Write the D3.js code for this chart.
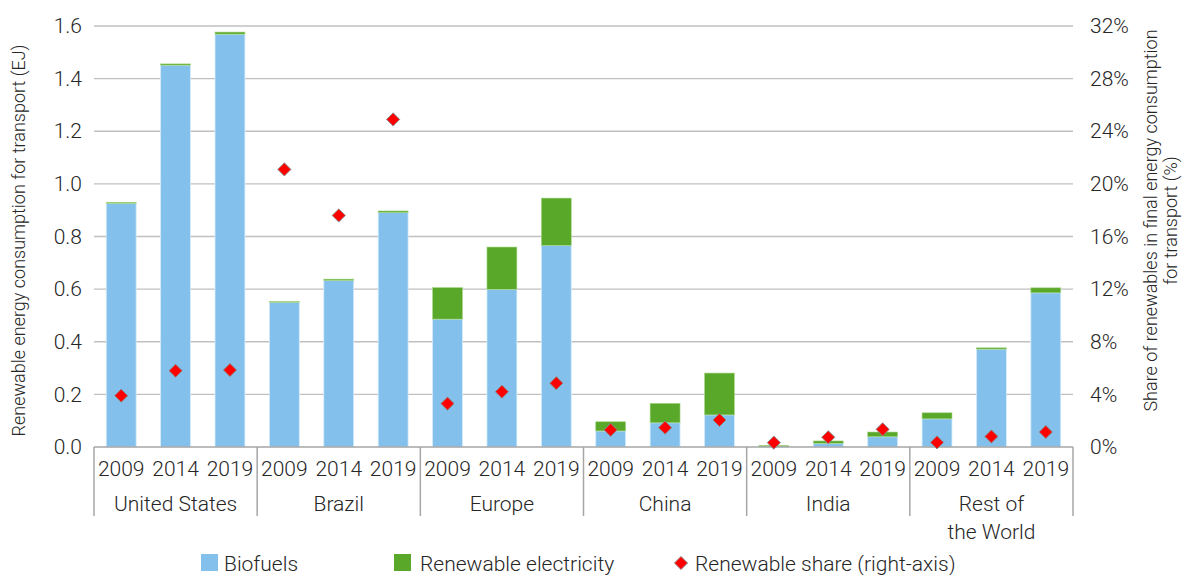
<!DOCTYPE html>
<html>
<head>
<meta charset="utf-8">
<script src="https://cdn.jsdelivr.net/npm/d3@7"></script>
<style>
  body { margin: 0; background: #fff; }
  svg { font-family: Roboto, "Noto Sans", sans-serif; font-weight: 300; }
  text { fill: #262626; }
</style>
</head>
<body>
<svg id="chart" width="1184" height="575"></svg>
<script>
// data
const regions = ["United States", "Brazil", "Europe", "China", "India", "Rest of the World"]
const regionLines = [["United States"], ["Brazil"], ["Europe"], ["China"], ["India"], ["Rest of", "the World"]]
const years = ["2009", "2014", "2019"]
const biofuels = [0.926, 1.451, 1.569, 0.550, 0.633, 0.891, 0.486, 0.599, 0.766, 0.061, 0.092, 0.122, 0.001, 0.014, 0.039, 0.107, 0.372, 0.586]
const electricity = [0.004, 0.005, 0.008, 0.003, 0.005, 0.006, 0.120, 0.161, 0.180, 0.035, 0.074, 0.159, 0.005, 0.009, 0.018, 0.023, 0.005, 0.019]
const share = [3.9, 5.8, 5.85, 21.1, 17.6, 24.9, 3.3, 4.2, 4.85, 1.3, 1.47, 2.05, 0.33, 0.74, 1.34, 0.35, 0.8, 1.14]
const leftTicks = [0, 0.2, 0.4, 0.6, 0.8, 1.0, 1.2, 1.4, 1.6]
const rightTicks = [0, 4, 8, 12, 16, 20, 24, 28, 32]

const colors = { bio: "#83c1ec", elec: "#5aa829", share: "#ff0000", grid: "#c0c0c0", axis: "#a6a6a6" }

const rows = []
regions.forEach((r, i) => {
  years.forEach((y, j) => {
    const k = i * 3 + j
    rows.push({ key: r + "|" + y, region: r, year: y, bio: biofuels[k], elec: electricity[k], share: share[k] })
  })
})

const svg = d3.select("#chart")
const plotLeft = 94, plotRight = 1073, plotTop = 26, plotBottom = 447

const x = d3.scaleBand().domain(rows.map(d => d.key)).range([plotLeft, plotRight]).paddingInner(0.45).paddingOuter(0.225)
const y = d3.scaleLinear().domain([0, 1.6]).range([plotBottom, plotTop])
const y2 = d3.scaleLinear().domain([0, 32]).range([plotBottom, plotTop])

// gridlines
svg.append("g")
  .selectAll("line")
  .data(leftTicks.slice(1))
  .join("line")
  .attr("x1", plotLeft).attr("x2", plotRight)
  .attr("y1", d => y(d)).attr("y2", d => y(d))
  .attr("stroke", colors.grid).attr("stroke-width", 1.3)

// left axis
const yAxis = svg.append("g")
  .attr("transform", `translate(${plotLeft},0)`)
  .call(d3.axisLeft(y).tickValues(leftTicks).tickFormat(d3.format(".1f")).tickSize(0).tickPadding(12))
yAxis.select(".domain").remove()
yAxis.selectAll("text").style("font-size", "21px").style("font-family", "Roboto").attr("fill", "#262626")

// right axis
const y2Axis = svg.append("g")
  .attr("transform", `translate(${plotRight},0)`)
  .call(d3.axisRight(y2).tickValues(rightTicks).tickFormat(d => d + "%").tickSize(0).tickPadding(17))
y2Axis.select(".domain").remove()
y2Axis.selectAll("text").style("font-size", "21px").style("font-family", "Roboto").attr("fill", "#262626")

// stacked bars
const bars = svg.append("g")
bars.selectAll("rect.bio")
  .data(rows)
  .join("rect")
  .attr("class", "bio")
  .attr("x", d => x(d.key))
  .attr("width", x.bandwidth())
  .attr("y", d => y(d.bio))
  .attr("height", d => y(0) - y(d.bio))
  .attr("fill", colors.bio)
  .attr("stroke", "#d6ecfa").attr("stroke-width", 0.8)

bars.selectAll("rect.elec")
  .data(rows)
  .join("rect")
  .attr("class", "elec")
  .attr("x", d => x(d.key))
  .attr("width", x.bandwidth())
  .attr("y", d => y(d.bio + d.elec))
  .attr("height", d => y(d.bio) - y(d.bio + d.elec))
  .attr("fill", colors.elec)
  .attr("stroke", "#a8d88a").attr("stroke-width", 0.6)

// baseline + category dividers
svg.append("line")
  .attr("x1", plotLeft).attr("x2", plotRight)
  .attr("y1", plotBottom).attr("y2", plotBottom)
  .attr("stroke", colors.axis).attr("stroke-width", 1.5)

const groupEdges = regions.map(r => x(r + "|2009") - x.step() * x.paddingOuter())
groupEdges.push(plotRight)
svg.append("g")
  .selectAll("line")
  .data(groupEdges)
  .join("line")
  .attr("x1", d => d).attr("x2", d => d)
  .attr("y1", plotBottom).attr("y2", 516)
  .attr("stroke", colors.axis).attr("stroke-width", 1.5)

// year labels
svg.append("g")
  .selectAll("text")
  .data(rows)
  .join("text")
  .attr("x", d => x(d.key) + x.bandwidth() / 2)
  .attr("y", 476)
  .attr("text-anchor", "middle")
  .style("font-size", "21px")
  .text(d => d.year)

// region labels
const regionG = svg.append("g")
regionLines.forEach((lines, i) => {
  const cx = (groupEdges[i] + groupEdges[i + 1]) / 2
  lines.forEach((t, j) => {
    regionG.append("text")
      .attr("x", cx)
      .attr("y", 511 + j * 28)
      .attr("text-anchor", "middle")
      .style("font-size", "21px")
      .text(t)
  })
})

// share diamonds
const diamond = d3.symbol().type(d3.symbolDiamond2).size(110)
svg.append("g")
  .selectAll("path")
  .data(rows)
  .join("path")
  .attr("d", diamond)
  .attr("transform", d => `translate(${x(d.key) + x.bandwidth() / 2},${y2(d.share)})`)
  .attr("fill", colors.share)
  .attr("stroke", "#8c8c8c").attr("stroke-width", 1)

// axis titles
svg.append("text")
  .attr("transform", `translate(25,${(plotTop + plotBottom) / 2 + 4}) rotate(-90)`)
  .attr("text-anchor", "middle")
  .style("font-size", "18px")
  .text("Renewable energy consumption for transport (EJ)")

const rt = svg.append("text")
  .attr("transform", `translate(1157,${(plotTop + plotBottom) / 2 - 16}) rotate(-90)`)
  .attr("text-anchor", "middle")
  .style("font-size", "18px")
rt.append("tspan").attr("x", 0).attr("dy", 0).text("Share of renewables in final energy consumption")
rt.append("tspan").attr("x", 0).attr("dy", 20).text("for transport (%)")

// legend
const legend = svg.append("g").attr("transform", "translate(0,563)")
legend.append("rect").attr("x", 201).attr("y", -9).attr("width", 17).attr("height", 17).attr("fill", colors.bio)
legend.append("text").attr("x", 224).attr("y", 8).style("font-size", "21px").text("Biofuels")
legend.append("rect").attr("x", 394).attr("y", -9).attr("width", 17).attr("height", 17).attr("fill", colors.elec)
legend.append("text").attr("x", 420).attr("y", 8).style("font-size", "21px").text("Renewable electricity")
legend.append("path").attr("d", diamond).attr("transform", "translate(681,0)")
  .attr("fill", colors.share).attr("stroke", "#8c8c8c").attr("stroke-width", 1)
legend.append("text").attr("x", 695).attr("y", 8).style("font-size", "21px").text("Renewable share (right-axis)")
</script>
</body>
</html>
